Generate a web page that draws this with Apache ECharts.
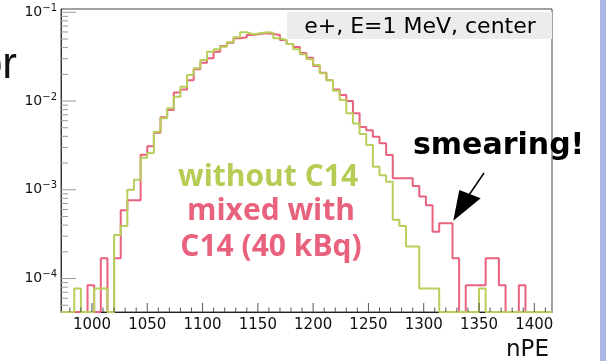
<!DOCTYPE html>
<html><head><meta charset="utf-8">
<script src="https://cdn.jsdelivr.net/npm/echarts@6/dist/echarts.min.js"></script>
<style>html,body{margin:0;padding:0;background:#fff}#c{width:606px;height:361px}</style>
</head><body><div id="c"></div>
<script>
// ---- data ----
const binLow = 972;          // first bin edge (nPE)
const binWidth = 6;          // bin width (nPE)
const xMax = 1416;           // last bin edge / axis end
const xTickLabels = [1000, 1050, 1100, 1150, 1200, 1250, 1300, 1350, 1400];
const yDecades = [-4, -3, -2, -1];
const yMinExp = -4.377, yMaxExp = -0.963;

const withoutC14 = [
  0, 0, 7.7e-5, 0, 0, 7.7e-5, 7.7e-5, 0, 3.1e-4, 3.9e-4,
  1.0e-3, 1.3e-3, 2.3e-3, 2.6e-3, 4.5e-3, 6.4e-3, 8.3e-3, 1.12e-2, 1.45e-2, 1.96e-2,
  2.34e-2, 2.90e-2, 3.60e-2, 3.83e-2, 4.09e-2, 4.59e-2, 5.23e-2, 5.95e-2, 5.65e-2, 5.80e-2,
  5.95e-2, 5.89e-2, 5.09e-2, 4.88e-2, 4.40e-2, 3.83e-2, 3.36e-2, 2.95e-2, 2.55e-2, 2.05e-2,
  1.72e-2, 1.31e-2, 1.03e-2, 7.3e-3, 5.6e-3, 4.25e-3, 3.2e-3, 1.82e-3, 1.46e-3, 1.23e-3,
  4.6e-4, 3.9e-4, 2.3e-4, 2.3e-4, 7.7e-5, 7.7e-5, 7.7e-5, 0, 0, 0,
  0, 0, 0, 7.7e-5, 0, 0, 0, 0, 0, 0,
  0, 0, 0, 0
];
const mixedC14 = [
  0, 0, 0, 0, 8.4e-5, 0, 1.69e-4, 0, 1.69e-4, 5.9e-4,
  7.6e-4, 7.6e-4, 2.48e-3, 3.1e-3, 4.4e-3, 6.55e-3, 7.9e-3, 1.25e-2, 1.35e-2, 1.72e-2,
  2.28e-2, 2.70e-2, 3.03e-2, 3.60e-2, 4.18e-2, 4.55e-2, 5.09e-2, 5.23e-2, 5.55e-2, 5.70e-2,
  5.80e-2, 5.70e-2, 5.55e-2, 4.88e-2, 4.40e-2, 4.07e-2, 3.47e-2, 3.07e-2, 2.48e-2, 2.08e-2,
  1.72e-2, 1.35e-2, 1.17e-2, 1.0e-2, 7.3e-3, 5.1e-3, 4.7e-3, 3.96e-3, 3.34e-3, 2.46e-3,
  1.35e-3, 1.35e-3, 1.35e-3, 1.10e-3, 8.4e-4, 6.7e-4, 3.37e-4, 4.2e-4, 4.2e-4, 1.69e-4,
  0, 8.4e-5, 8.4e-5, 8.4e-5, 1.69e-4, 1.69e-4, 8.4e-5, 0, 0, 8.4e-5,
  0, 0, 0, 0
];
// ---------------------------------------

const Y_MIN = Math.pow(10, yMinExp), Y_MAX = Math.pow(10, yMaxExp);
const GREEN = '#b7cf5b', PINK = '#e8627d';

function stepData(vals) {
  const d = vals.map((v, k) => [binLow + k * binWidth, v > 0 ? v : Y_MIN]);
  d.push([xMax, vals[vals.length - 1] > 0 ? vals[vals.length - 1] : Y_MIN]);
  return d;
}
const xTickData = [];
for (let v = 980; v <= 1410; v += 10) xTickData.push([v, Y_MIN, v % 50 === 0 ? 9 : 4.5]);
const yTickData = [];
for (let e = -5; e <= -1; e++) for (let m = 1; m <= 9; m++) {
  const v = m * Math.pow(10, e);
  if (v >= Y_MIN && v <= Y_MAX) yTickData.push([binLow, v, m === 1 ? 15 : 7]);
}
const supMap = {'-': '\u2212', '0': '0', '1': '1', '2': '2', '3': '3', '4': '4', '5': '5'};

const chart = echarts.init(document.getElementById('c'));
chart.setOption({
  animation: false,
  backgroundColor: '#fff',
  grid: {left: 61, top: 9, width: 491, height: 303, show: true, borderColor: '#444', borderWidth: 1},
  xAxis: {
    type: 'value', min: binLow, max: xMax, interval: 2,
    axisLine: {show: true, lineStyle: {color: '#222', width: 1}},
    axisTick: {show: false}, splitLine: {show: false},
    axisLabel: {
      show: true, margin: 6, color: '#111', fontFamily: 'DejaVu Sans', fontSize: 15,
      showMinLabel: false, showMaxLabel: false,
      formatter: v => xTickLabels.indexOf(v) >= 0 ? String(v) : ''
    }
  },
  yAxis: {
    type: 'log', logBase: 10, min: Y_MIN, max: Y_MAX,
    axisLine: {show: true, lineStyle: {color: '#333', width: 1}},
    axisTick: {show: false}, splitLine: {show: false}, minorTick: {show: false},
    axisLabel: {
      show: true, margin: 4, showMinLabel: false, showMaxLabel: false,
      formatter: v => {
        const e = Math.log10(v);
        const r = Math.round(e);
        if (Math.abs(e - r) > 1e-6 || yDecades.indexOf(r) < 0) return '';
        return '{b|10}{s|' + String(r).split('').map(c => supMap[c]).join('') + '}';
      },
      rich: {
        b: {fontFamily: 'DejaVu Sans', fontSize: 14, color: '#111'},
        s: {fontFamily: 'DejaVu Sans', fontSize: 10, color: '#111', verticalAlign: 'top', padding: [0, 0, 8, 0]}
      }
    }
  },
  series: [
    {type: 'line', name: 'mixed with C14 (40 kBq)', data: stepData(mixedC14), step: 'end',
     showSymbol: false, symbol: 'none', clip: true, lineStyle: {color: PINK, width: 2}, z: 3},
    {type: 'line', name: 'without C14', data: stepData(withoutC14), step: 'end',
     showSymbol: false, symbol: 'none', clip: true, lineStyle: {color: GREEN, width: 2}, z: 4},
    {type: 'custom', data: xTickData, encode: {x: 0, y: 1}, z: 5, silent: true,
     renderItem: (p, api) => {
       const c = api.coord([api.value(0), api.value(1)]);
       return {type: 'line', shape: {x1: c[0], y1: c[1], x2: c[0], y2: c[1] - api.value(2)},
               style: {stroke: '#555', lineWidth: 1}};
     }},
    {type: 'custom', data: yTickData, encode: {x: 0, y: 1}, z: 5, silent: true,
     renderItem: (p, api) => {
       const c = api.coord([api.value(0), api.value(1)]);
       return {type: 'line', shape: {x1: c[0], y1: c[1], x2: c[0] + api.value(2), y2: c[1]},
               style: {stroke: '#999', lineWidth: 1}};
     }}
  ],
  graphic: [
    {type: 'rect', z: 100, shape: {x: 287, y: 12, width: 265, height: 27}, style: {fill: '#ececec'}},
    {type: 'text', z: 101, x: 420, y: 27, style: {text: 'e+, E=1 MeV, center', fontFamily: 'DejaVu Sans',
      fontSize: 22, fill: '#000', textAlign: 'center', textVerticalAlign: 'middle'}},
    {type: 'text', z: 101, x: 413, y: 146, style: {text: 'smearing!', fontFamily: 'DejaVu Sans',
      fontWeight: 'bold', fontSize: 30, fill: '#000', textAlign: 'left', textVerticalAlign: 'middle'}},
    {type: 'text', z: 101, x: 268, y: 177, style: {text: 'without C14', fontFamily: 'Open Sans',
      fontWeight: 'bold', fontSize: 30, fill: '#b5cc55', textAlign: 'center', textVerticalAlign: 'middle'}},
    {type: 'text', z: 101, x: 271, y: 211, style: {text: 'mixed with', fontFamily: 'Open Sans',
      fontWeight: 'bold', fontSize: 30, fill: PINK, textAlign: 'center', textVerticalAlign: 'middle'}},
    {type: 'text', z: 101, x: 271, y: 247, style: {text: 'C14 (40 kBq)', fontFamily: 'Open Sans',
      fontWeight: 'bold', fontSize: 30, fill: PINK, textAlign: 'center', textVerticalAlign: 'middle'}},
    {type: 'line', z: 101, shape: {x1: 484, y1: 173, x2: 469, y2: 195}, style: {stroke: '#000', lineWidth: 1.5}},
    {type: 'polygon', z: 101, shape: {points: [[453.3, 220.7], [459.3, 190], [480.7, 198.3]]}, style: {fill: '#000'}},
    {type: 'text', z: 101, x: 549, y: 350, style: {text: 'nPE', fontFamily: 'DejaVu Sans',
      fontSize: 23, fill: '#111', textAlign: 'right', textVerticalAlign: 'middle'}},
    {type: 'text', z: 101, x: 17, y: 66, style: {text: 'or', fontFamily: 'Liberation Sans',
      fontSize: 44, fill: '#111', textAlign: 'right', textVerticalAlign: 'middle'}},
    {type: 'rect', z: 101, shape: {x: 600, y: 0, width: 6, height: 361}, style: {fill: '#a9b9e3'}}
  ]
});
</script></body></html>
